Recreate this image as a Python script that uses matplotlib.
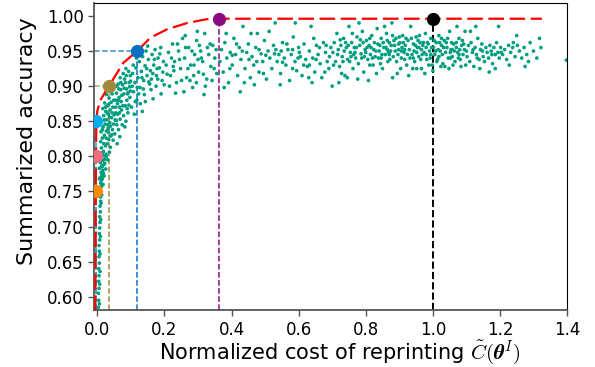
import numpy as np
import matplotlib
matplotlib.use('Agg')
import matplotlib.pyplot as plt

plt.rcParams.update({
    'mathtext.fontset': 'cm',
    'xtick.labelsize': 12,
    'ytick.labelsize': 12,
})

# scatter of configurations (cost, accuracy)
pts = [
    # tail hugging the y axis
    (0.003, 0.585), (0.004, 0.595), (0.003, 0.605), (0.005, 0.612), (0.004, 0.622), (0.005, 0.630),
    (0.004, 0.640), (0.006, 0.648), (0.005, 0.657), (0.006, 0.665), (0.005, 0.673), (0.007, 0.681),
    (0.006, 0.690), (0.007, 0.698), (0.008, 0.706), (0.007, 0.714), (0.009, 0.721), (0.008, 0.729),
    (0.010, 0.736), (0.009, 0.742), (0.011, 0.748), (0.008, 0.753), (0.012, 0.757), (0.010, 0.762),
    (0.012, 0.766), (0.009, 0.770), (0.014, 0.773), (0.011, 0.777), (0.016, 0.780), (0.006, 0.783),
    (0.013, 0.786), (0.019, 0.788), (0.009, 0.791), (0.016, 0.794), (0.022, 0.796), (0.012, 0.799),
    (0.020, 0.801), (0.007, 0.804), (0.026, 0.803),
    (0.006, 0.590), (0.007, 0.618), (0.008, 0.636), (0.008, 0.661), (0.009, 0.686), (0.010, 0.710),
    (0.011, 0.733), (0.013, 0.745), (0.014, 0.759), (0.015, 0.768), (0.018, 0.776), (0.006, 0.768),
    # 0.01 - 0.05
    (0.012, 0.812), (0.018, 0.807), (0.024, 0.815), (0.010, 0.821), (0.029, 0.818), (0.015, 0.826),
    (0.021, 0.830), (0.034, 0.824), (0.011, 0.835), (0.027, 0.836), (0.040, 0.829), (0.017, 0.842),
    (0.032, 0.840), (0.023, 0.846), (0.045, 0.838), (0.013, 0.850), (0.037, 0.848), (0.028, 0.852),
    (0.048, 0.846), (0.019, 0.858), (0.042, 0.855), (0.033, 0.860), (0.025, 0.864), (0.050, 0.859),
    (0.038, 0.866), (0.016, 0.868), (0.046, 0.870), (0.030, 0.872), (0.041, 0.877), (0.022, 0.876),
    (0.049, 0.880), (0.035, 0.883), (0.027, 0.888), (0.044, 0.889), (0.031, 0.795), (0.022, 0.790),
    (0.014, 0.785), (0.027, 0.800), (0.036, 0.806), (0.020, 0.772), (0.017, 0.760), (0.025, 0.782),
    (0.039, 0.813), (0.047, 0.823), (0.043, 0.831), (0.019, 0.818), (0.030, 0.845), (0.036, 0.856),
    (0.015, 0.838), (0.026, 0.826), (0.033, 0.834), (0.021, 0.852), (0.039, 0.843), (0.029, 0.862),
    (0.044, 0.862), (0.034, 0.874), (0.024, 0.870), (0.039, 0.892), (0.047, 0.895), (0.014, 0.805),
    # 0.05 - 0.10
    (0.052, 0.832), (0.058, 0.845), (0.063, 0.838), (0.055, 0.862), (0.068, 0.853), (0.072, 0.866),
    (0.060, 0.875), (0.078, 0.858), (0.065, 0.884), (0.083, 0.872), (0.057, 0.890), (0.070, 0.895),
    (0.088, 0.880), (0.075, 0.902), (0.092, 0.891), (0.062, 0.903), (0.081, 0.910), (0.096, 0.899),
    (0.086, 0.915), (0.068, 0.912), (0.099, 0.907), (0.054, 0.870), (0.074, 0.845), (0.091, 0.862),
    (0.085, 0.850), (0.067, 0.828), (0.079, 0.889), (0.094, 0.873), (0.059, 0.818), (0.097, 0.884),
    (0.071, 0.878), (0.087, 0.896), (0.053, 0.852), (0.077, 0.918), (0.064, 0.896), (0.093, 0.921),
    (0.082, 0.842), (0.089, 0.868), (0.056, 0.880), (0.073, 0.887), (0.098, 0.915), (0.061, 0.860),
    (0.084, 0.905), (0.066, 0.870), (0.090, 0.889),
    (0.057, 0.851), (0.066, 0.862), (0.076, 0.872), (0.063, 0.880), (0.080, 0.897), (0.095, 0.905),
    (0.070, 0.905), (0.058, 0.900), (0.085, 0.925), (0.099, 0.893),
    # 0.10 - 0.20
    (0.102, 0.870), (0.108, 0.892), (0.112, 0.905), (0.105, 0.918), (0.118, 0.880), (0.121, 0.912),
    (0.115, 0.926), (0.127, 0.898), (0.131, 0.921), (0.125, 0.935), (0.138, 0.908), (0.142, 0.929),
    (0.135, 0.942), (0.148, 0.915), (0.152, 0.938), (0.145, 0.950), (0.158, 0.922), (0.163, 0.945),
    (0.156, 0.903), (0.168, 0.930), (0.172, 0.952), (0.176, 0.915), (0.181, 0.940), (0.185, 0.926),
    (0.189, 0.955), (0.193, 0.908), (0.197, 0.935), (0.110, 0.860), (0.128, 0.875), (0.140, 0.888),
    (0.160, 0.895), (0.175, 0.900), (0.190, 0.889), (0.104, 0.900), (0.117, 0.940), (0.133, 0.912),
    (0.147, 0.925), (0.165, 0.918), (0.180, 0.910), (0.195, 0.920), (0.123, 0.889), (0.137, 0.896),
    (0.153, 0.906), (0.170, 0.938), (0.186, 0.946), (0.199, 0.902), (0.113, 0.878), (0.143, 0.878),
    (0.161, 0.910), (0.178, 0.925), (0.130, 0.950), (0.150, 0.957), (0.107, 0.930), (0.119, 0.898),
    (0.134, 0.864), (0.166, 0.882),
    # 0.20 - 0.36
    (0.205, 0.930), (0.212, 0.948), (0.218, 0.915), (0.224, 0.960), (0.230, 0.935), (0.236, 0.905),
    (0.242, 0.950), (0.248, 0.925), (0.254, 0.968), (0.260, 0.940), (0.266, 0.912), (0.272, 0.955),
    (0.278, 0.930), (0.284, 0.898), (0.290, 0.945), (0.296, 0.965), (0.302, 0.920), (0.308, 0.950),
    (0.314, 0.935), (0.320, 0.975), (0.326, 0.910), (0.332, 0.945), (0.338, 0.928), (0.344, 0.958),
    (0.350, 0.940), (0.356, 0.918), (0.215, 0.900), (0.228, 0.922), (0.245, 0.938), (0.258, 0.892),
    (0.270, 0.925), (0.282, 0.950), (0.295, 0.905), (0.310, 0.940), (0.322, 0.900), (0.336, 0.960),
    (0.348, 0.925), (0.208, 0.917), (0.221, 0.940), (0.239, 0.960), (0.251, 0.908), (0.263, 0.955),
    (0.276, 0.908), (0.288, 0.930), (0.300, 0.938), (0.316, 0.917), (0.328, 0.955), (0.342, 0.908),
    (0.354, 0.952), (0.233, 0.890), (0.262, 0.972), (0.298, 0.978), (0.318, 0.888), (0.304, 0.958),
    (0.226, 0.928), (0.287, 0.915),
    # 0.36 - 0.70
    (0.365, 0.935), (0.370, 0.952), (0.375, 0.920), (0.380, 0.962), (0.386, 0.940), (0.391, 0.905),
    (0.396, 0.948), (0.402, 0.930), (0.407, 0.968), (0.412, 0.945), (0.418, 0.915), (0.423, 0.955),
    (0.428, 0.938), (0.434, 0.985), (0.440, 0.925), (0.445, 0.948), (0.450, 0.960), (0.456, 0.912),
    (0.461, 0.942), (0.466, 0.930), (0.472, 0.955), (0.477, 0.975), (0.482, 0.920), (0.488, 0.946),
    (0.493, 0.935), (0.498, 0.965), (0.504, 0.910), (0.509, 0.950), (0.514, 0.940), (0.520, 0.925),
    (0.525, 0.958), (0.530, 0.990), (0.536, 0.935), (0.541, 0.945), (0.546, 0.918), (0.552, 0.962),
    (0.557, 0.940), (0.562, 0.930), (0.568, 0.952), (0.573, 0.908), (0.578, 0.945), (0.584, 0.970),
    (0.589, 0.935), (0.594, 0.922), (0.600, 0.955), (0.605, 0.942), (0.610, 0.915), (0.616, 0.960),
    (0.621, 0.938), (0.626, 0.928), (0.632, 0.950), (0.637, 0.985), (0.642, 0.940), (0.648, 0.920),
    (0.653, 0.958), (0.658, 0.945), (0.664, 0.932), (0.669, 0.912), (0.674, 0.962), (0.680, 0.948),
    (0.685, 0.935), (0.690, 0.925), (0.696, 0.955), (0.378, 0.898), (0.395, 0.925), (0.415, 0.960),
    (0.438, 0.905), (0.458, 0.975), (0.475, 0.935), (0.495, 0.918), (0.512, 0.978), (0.528, 0.946),
    (0.545, 0.902), (0.565, 0.960), (0.582, 0.925), (0.598, 0.940), (0.615, 0.930), (0.630, 0.912),
    (0.645, 0.968), (0.662, 0.955), (0.678, 0.920), (0.692, 0.942), (0.384, 0.975), (0.426, 0.892),
    (0.468, 0.902), (0.548, 0.950), (0.590, 0.990), (0.640, 0.905), (0.700, 0.900),
    (0.402, 0.944), (0.452, 0.938), (0.502, 0.944), (0.552, 0.934), (0.602, 0.948), (0.652, 0.938),
    (0.432, 0.950), (0.482, 0.952), (0.532, 0.952), (0.582, 0.952), (0.632, 0.930), (0.682, 0.958),
    # 0.70 - 1.10, densest part
    (0.702, 0.948), (0.706, 0.962), (0.710, 0.935), (0.714, 0.975), (0.718, 0.952), (0.722, 0.928),
    (0.726, 0.958), (0.730, 0.942), (0.734, 0.968), (0.738, 0.915), (0.742, 0.955), (0.746, 0.938),
    (0.750, 0.985), (0.754, 0.948), (0.758, 0.962), (0.762, 0.925), (0.766, 0.955), (0.770, 0.940),
    (0.774, 0.970), (0.778, 0.932), (0.782, 0.958), (0.786, 0.946), (0.790, 0.978), (0.794, 0.920),
    (0.798, 0.952), (0.802, 0.965), (0.806, 0.938), (0.810, 0.958), (0.814, 0.945), (0.818, 0.972),
    (0.822, 0.930), (0.826, 0.962), (0.830, 0.950), (0.834, 0.982), (0.838, 0.940), (0.842, 0.958),
    (0.846, 0.968), (0.850, 0.925), (0.854, 0.955), (0.858, 0.945), (0.862, 0.975), (0.866, 0.935),
    (0.870, 0.962), (0.874, 0.950), (0.878, 0.990), (0.882, 0.942), (0.886, 0.958), (0.890, 0.968),
    (0.894, 0.918), (0.898, 0.952), (0.902, 0.962), (0.906, 0.940), (0.910, 0.972), (0.914, 0.948),
    (0.918, 0.958), (0.922, 0.930), (0.926, 0.965), (0.930, 0.952), (0.934, 0.985), (0.938, 0.945),
    (0.942, 0.960), (0.946, 0.935), (0.950, 0.970), (0.954, 0.955), (0.958, 0.942), (0.962, 0.962),
    (0.966, 0.925), (0.970, 0.958), (0.974, 0.948), (0.978, 0.975), (0.982, 0.938), (0.986, 0.960),
    (0.990, 0.950), (0.994, 0.968), (0.998, 0.930), (1.002, 0.955), (1.006, 0.945), (1.010, 0.962),
    (1.014, 0.938), (1.018, 0.972), (1.022, 0.950), (1.026, 0.958), (1.030, 0.932), (1.034, 0.965),
    (1.038, 0.948), (1.042, 0.955), (1.046, 0.940), (1.050, 0.978), (1.054, 0.952), (1.058, 0.942),
    (1.062, 0.960), (1.066, 0.935), (1.070, 0.955), (1.074, 0.948), (1.078, 0.968), (1.082, 0.938),
    (1.086, 0.958), (1.090, 0.945), (1.094, 0.952), (1.098, 0.930),
    (0.704, 0.930), (0.716, 0.945), (0.728, 0.918), (0.740, 0.962), (0.752, 0.935), (0.764, 0.945),
    (0.776, 0.910), (0.788, 0.940), (0.800, 0.948), (0.812, 0.930), (0.824, 0.952), (0.836, 0.960),
    (0.848, 0.945), (0.860, 0.955), (0.872, 0.938), (0.884, 0.965), (0.896, 0.945), (0.908, 0.955),
    (0.920, 0.968), (0.932, 0.940), (0.944, 0.950), (0.956, 0.965), (0.968, 0.945), (0.980, 0.955),
    (0.992, 0.940), (1.004, 0.965), (1.016, 0.952), (1.028, 0.945), (1.040, 0.962), (1.052, 0.940),
    (1.064, 0.950), (1.076, 0.940), (1.088, 0.965), (1.100, 0.950),
    (0.720, 0.905), (0.745, 0.912), (0.780, 0.990), (0.808, 0.908), (0.832, 0.918), (0.856, 0.985),
    (0.880, 0.912), (0.904, 0.925), (0.928, 0.915), (0.952, 0.925), (0.976, 0.918), (1.000, 0.922),
    (1.024, 0.928), (1.048, 0.925), (1.072, 0.985), (1.096, 0.978), (0.760, 0.975), (0.792, 0.962),
    (0.820, 0.940), (0.844, 0.932), (0.868, 0.948), (0.892, 0.935), (0.916, 0.938), (0.940, 0.925),
    (0.964, 0.938), (0.988, 0.930), (1.012, 0.935), (1.036, 0.928), (1.060, 0.930), (1.084, 0.928),
    (0.736, 0.950), (0.772, 0.955), (0.804, 0.955), (0.840, 0.950), (0.876, 0.958), (0.912, 0.962),
    (0.948, 0.958), (0.984, 0.962), (1.020, 0.962), (1.056, 0.962), (1.092, 0.960),
    (0.724, 0.966), (0.748, 0.958), (0.768, 0.948), (0.784, 0.966), (0.796, 0.942), (0.816, 0.955),
    (0.828, 0.942), (0.852, 0.962), (0.864, 0.952), (0.880, 0.972), (0.888, 0.950), (0.900, 0.970),
    (0.916, 0.952), (0.924, 0.945), (0.936, 0.968), (0.952, 0.948), (0.960, 0.972), (0.972, 0.962),
    (0.980, 0.945), (0.996, 0.955), (1.008, 0.950), (1.018, 0.942), (1.032, 0.955), (1.044, 0.968),
    (1.058, 0.952), (1.070, 0.962), (1.080, 0.952), (0.732, 0.935), (0.756, 0.942), (0.812, 0.968),
    (0.846, 0.940), (0.870, 0.945), (0.898, 0.960), (0.942, 0.940), (0.966, 0.952), (0.994, 0.945),
    (1.026, 0.968), (1.052, 0.948), (1.078, 0.945), (0.864, 0.965), (0.906, 0.950), (0.958, 0.955),
    # 1.10 - 1.40
    (1.102, 0.942), (1.106, 0.958), (1.110, 0.935), (1.114, 0.962), (1.118, 0.948), (1.122, 0.928),
    (1.126, 0.955), (1.130, 0.945), (1.134, 0.968), (1.138, 0.938), (1.142, 0.952), (1.146, 0.960),
    (1.150, 0.942), (1.154, 0.935), (1.158, 0.955), (1.162, 0.948), (1.166, 0.940), (1.170, 0.958),
    (1.174, 0.950), (1.178, 0.932), (1.182, 0.955), (1.186, 0.945), (1.190, 0.962), (1.194, 0.948),
    (1.198, 0.940), (1.202, 0.955), (1.208, 0.945), (1.214, 0.952), (1.220, 0.938), (1.226, 0.958),
    (1.232, 0.948), (1.238, 0.955), (1.245, 0.942), (1.252, 0.958), (1.258, 0.950), (1.265, 0.940),
    (1.272, 0.955), (1.280, 0.945), (1.290, 0.962), (1.300, 0.950), (1.310, 0.940), (1.322, 0.955),
    (1.398, 0.937), (1.112, 0.978), (1.140, 0.925), (1.168, 0.920), (1.196, 0.985), (1.228, 0.930),
    (1.250, 0.972), (1.285, 0.935), (1.318, 0.968), (1.128, 0.985), (1.186, 0.925), (1.240, 0.962),
    (1.275, 0.928), (1.120, 0.952), (1.148, 0.950), (1.176, 0.945), (1.204, 0.948), (1.132, 0.940),
]
cost = np.array([p[0] for p in pts])
accuracy = np.array([p[1] for p in pts])

# red frontier
front_cost = [-0.006, -0.005, -0.005, -0.004, -0.003, 0.000, 0.009, 0.034, 0.050,
              0.077, 0.119, 0.158, 0.208, 0.268, 0.328, 0.363, 1.325]
front_acc = [0.58, 0.70, 0.75, 0.80, 0.85, 0.865, 0.880, 0.900, 0.912,
             0.933, 0.950, 0.969, 0.981, 0.990, 0.9955, 0.996, 0.996]

# highlighted target points
target_acc = [0.75, 0.80, 0.85, 0.90, 0.95, 0.996, 0.996]
target_cost = [-0.005, -0.005, -0.003, 0.034, 0.119, 0.363, 1.0]
target_colors = ['#ff8c00', '#f26b7f', '#00aeef', '#a0893a', '#0a6fc2', '#8b0a80', 'black']

xmin, xmax = -0.01, 1.4
ymin, ymax = 0.581, 1.0185

fig = plt.figure(figsize=(5.95, 3.67), dpi=100)
ax = fig.add_axes([0.158, 0.155, 0.795, 0.837])

ax.scatter(cost, accuracy, s=7, color='#009e80', edgecolors='none', zorder=2)
ax.plot(front_cost, front_acc, color='red', lw=1.6, ls=(0, (7, 2.5)), zorder=3)

for c, a, col in zip(target_cost, target_acc, target_colors):
    lw = 1.4 if col == 'black' else 1.1
    ax.vlines(c, ymin, a, colors=col, linestyles='--', lw=lw, zorder=1.5)
    if a < 0.99:
        ax.hlines(a, xmin, c, colors=col, linestyles='--', lw=lw, zorder=1.5, alpha=0.8)
    ax.plot(c, a, 'o', color=col, ms=8.5, zorder=5)

ax.set_xlim(xmin, xmax)
ax.set_ylim(ymin, ymax)
ax.set_xticks(np.arange(0, 1.41, 0.2))
ax.set_yticks(np.arange(0.60, 1.001, 0.05))
ax.set_xticklabels([f'{v:.1f}' for v in np.arange(0, 1.41, 0.2)])
ax.set_yticklabels([f'{v:.2f}' for v in np.arange(0.60, 1.001, 0.05)])

for side in ['left', 'bottom']:
    ax.spines[side].set_color('#555555')
    ax.spines[side].set_linewidth(1.3)
ax.tick_params(colors='#555555', labelcolor='black', length=4, width=1)

ax.set_xlabel(r'Normalized cost of reprinting $\tilde{C}(\boldsymbol{\theta}^I)$', fontsize=15)
ax.xaxis.set_label_coords(0.52, -0.09)
ax.set_ylabel('Summarized accuracy', fontsize=16)
ax.yaxis.set_label_coords(-0.12, 0.55)

fig.savefig('out.png', dpi=100)
